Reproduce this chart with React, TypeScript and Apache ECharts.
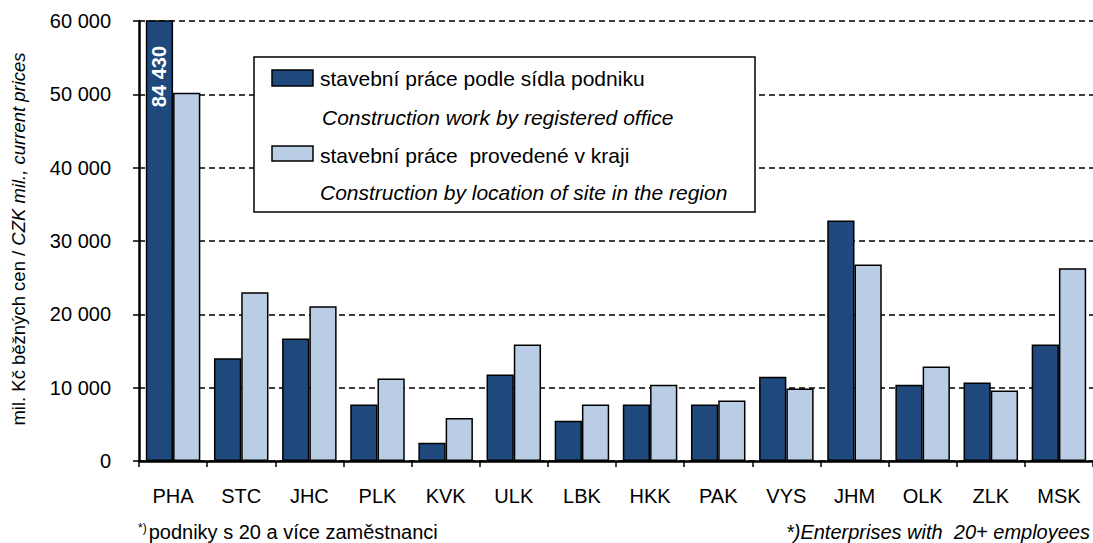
import React, { useEffect, useRef } from "react";
import * as echarts from "echarts";

const categories = ["PHA", "STC", "JHC", "PLK", "KVK", "ULK", "LBK", "HKK", "PAK", "VYS", "JHM", "OLK", "ZLK", "MSK"];
const byOffice = [84430, 14000, 16700, 7700, 2500, 11800, 5500, 7700, 7700, 11500, 32800, 10400, 10700, 15900];
const bySite = [50200, 23000, 21100, 11250, 5850, 15900, 7700, 10400, 8250, 9900, 26800, 12900, 9600, 26300];
const yMax = 60000;
const yInterval = 10000;

const seriesNames = [
  "stavební práce podle sídla podniku",
  "stavební práce  provedené v kraji",
];
const seriesNamesEn = [
  "Construction work by registered office",
  "Construction by location of site in the region",
];
const yNameCz = "mil. Kč běžných cen / ";
const yNameEn = "CZK mil., current prices";
const noteCz = "podniky s 20 a více zaměstnanci";
const noteEn = "*)Enterprises with  20+ employees";

const DARK = "#1F497D";
const LIGHT = "#B9CDE5";
const FONT = "'Liberation Sans', Arial, sans-serif";

const fmt = (v: number) => String(v).replace(/\B(?=(\d{3})+(?!\d))/g, " ");

export default function App() {
  const ref = useRef<HTMLDivElement>(null);
  useEffect(() => {
    if (!ref.current) return;
    const chart = echarts.init(ref.current, undefined, { renderer: "svg" });
    chart.setOption({
      animation: false,
      backgroundColor: "#ffffff",
      textStyle: { fontFamily: FONT },
      grid: { left: 139, right: 0, top: 21, bottom: 82, containLabel: false },
      xAxis: {
        type: "category",
        data: categories,
        axisLine: { show: true, lineStyle: { color: "#000", width: 2.5 } },
        axisTick: { show: true, length: 6, lineStyle: { color: "#000", width: 1.5 } },
        axisLabel: { color: "#000", fontSize: 20, margin: 25, fontFamily: FONT },
      },
      yAxis: {
        type: "value",
        min: 0,
        max: yMax,
        interval: yInterval,
        axisLine: { show: true, lineStyle: { color: "#000", width: 2.5 } },
        axisTick: { show: true, length: 6, lineStyle: { color: "#000", width: 1.5 } },
        axisLabel: { color: "#000", fontSize: 20, margin: 28, fontFamily: FONT, formatter: (v: number) => fmt(v) },
        splitLine: { show: true, lineStyle: { color: "#000", width: 1.5, type: [6, 4] } },
      },
      series: [
        {
          name: seriesNames[0],
          type: "bar",
          data: byOffice,
          barGap: "0%",
          barCategoryGap: "20%",
          itemStyle: { color: DARK, borderColor: "#000", borderWidth: 1.5 },
        },
        {
          name: seriesNames[1],
          type: "bar",
          data: bySite,
          barGap: "0%",
          barCategoryGap: "20%",
          itemStyle: { color: LIGHT, borderColor: "#000", borderWidth: 1.5 },
        },
      ],
    });

    const cxRaw = chart.convertToPixel({ xAxisIndex: 0 }, categories[0]) as any;
    const cx = typeof cxRaw === "number" && isFinite(cxRaw) ? cxRaw : 139 + (1093 - 139) / categories.length / 2;
    const bandW = (1093 - 139) / categories.length;
    const barW = (bandW * 0.8) / 2;
    const labelX = cx - barW / 2;

    chart.setOption({
      graphic: [
        {
          type: "text",
          x: 18,
          y: 239,
          rotation: Math.PI / 2,
          style: {
            text: "{a|" + yNameCz + "}{b|" + yNameEn + "}",
            align: "center",
            verticalAlign: "middle",
            rich: {
              a: { fontSize: 18.5, fontFamily: FONT, fill: "#000" },
              b: { fontSize: 18.5, fontFamily: FONT, fontStyle: "italic", fill: "#000" },
            },
          },
        },
        {
          type: "text",
          x: labelX,
          y: 46,
          z: 100,
          zlevel: 0,
          rotation: Math.PI / 2,
          style: {
            text: fmt(byOffice[0]),
            align: "right",
            verticalAlign: "middle",
            fontSize: 20,
            fontWeight: "bold",
            fontFamily: FONT,
            fill: "#fff",
          },
        },
        {
          type: "rect",
          z: 100,
          shape: { x: 254, y: 57, width: 501, height: 155 },
          style: { fill: "#fff", stroke: "#000", lineWidth: 1.5 },
        },
        {
          type: "rect",
          z: 101,
          shape: { x: 272, y: 70, width: 41, height: 16 },
          style: { fill: DARK, stroke: "#000", lineWidth: 1.5 },
        },
        {
          type: "text",
          z: 101,
          x: 320,
          y: 78,
          style: { text: seriesNames[0], fontSize: 21, fontFamily: FONT, fill: "#000", verticalAlign: "middle" },
        },
        {
          type: "text",
          z: 101,
          x: 322,
          y: 117,
          style: { text: seriesNamesEn[0], fontSize: 21, fontStyle: "italic", fontFamily: FONT, fill: "#000", verticalAlign: "middle" },
        },
        {
          type: "rect",
          z: 101,
          shape: { x: 272, y: 146, width: 41, height: 15 },
          style: { fill: LIGHT, stroke: "#000", lineWidth: 1.5 },
        },
        {
          type: "text",
          z: 101,
          x: 320,
          y: 155,
          style: { text: seriesNames[1], fontSize: 21, fontFamily: FONT, fill: "#000", verticalAlign: "middle" },
        },
        {
          type: "text",
          z: 101,
          x: 320,
          y: 192,
          style: { text: seriesNamesEn[1], fontSize: 21, fontStyle: "italic", fontFamily: FONT, fill: "#000", verticalAlign: "middle" },
        },
        {
          type: "text",
          x: 138,
          y: 532,
          style: {
            text: "{s|*)}{t|" + noteCz + "}",
            verticalAlign: "middle",
            rich: {
              s: { fontSize: 12, fontFamily: FONT, fill: "#000", verticalAlign: "top", padding: [0, 2, 8, 0] },
              t: { fontSize: 20, fontFamily: FONT, fill: "#000" },
            },
          },
        },
        {
          type: "text",
          x: 1090,
          y: 532,
          style: {
            text: noteEn,
            align: "right",
            verticalAlign: "middle",
            fontSize: 20,
            fontStyle: "italic",
            fontFamily: FONT,
            fill: "#000",
          },
        },
      ],
    });
    return () => chart.dispose();
  }, []);
  return (
    <div
      ref={ref}
      style={{ position: "fixed", left: 0, top: 0, width: 1093, height: 543, background: "#fff" }}
    />
  );
}
